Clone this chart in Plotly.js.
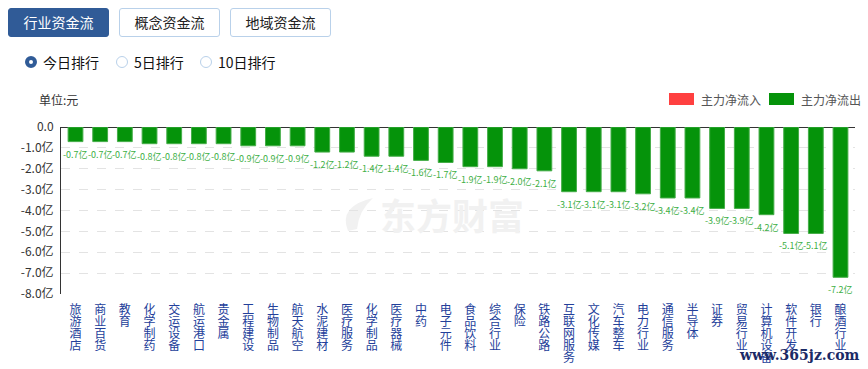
<!DOCTYPE html>
<html>
<head>
<meta charset="utf-8">
<script src="https://cdn.plot.ly/plotly-3.0.1.min.js"></script>
<style>
  html, body { margin: 0; padding: 0; background: #fff; }
  body { width: 868px; height: 369px; position: relative; overflow: hidden; font-family: "Noto Sans CJK SC", "Noto Sans", sans-serif; }
  #chart { position: absolute; left: 0; top: 0; width: 868px; height: 369px; }
  .btn { position: absolute; top: 8px; width: 99px; height: 27px; border: 1px solid #b9d1ea; border-radius: 3px; background: #fff; color: #222; font-size: 14px; line-height: 27px; text-align: center; z-index: 2; }
  .btn.active { background: #305b97; border-color: #305b97; color: #fff; }
  .radio { position: absolute; top: 54px; height: 16px; font-size: 14px; line-height: 16px; color: #111; z-index: 2; }
  .radio i { position: absolute; left: 0; top: 2px; width: 10px; height: 10px; border: 1px solid #b9d1ea; border-radius: 50%; box-sizing: content-box; }
  .radio.on i { width: 4px; height: 4px; border: 4px solid #305b97; }
  .radio span { position: absolute; left: 18px; top: 0; white-space: nowrap; }
</style>
</head>
<body>
<div class="btn active" style="left:8px;">行业资金流</div>
<div class="btn" style="left:119px;">概念资金流</div>
<div class="btn" style="left:230px;">地域资金流</div>
<div class="radio on" style="left:25px;"><i></i><span>今日排行</span></div>
<div class="radio" style="left:116px;"><i></i><span>5日排行</span></div>
<div class="radio" style="left:200px;"><i></i><span>10日排行</span></div>
<div id="chart"></div>
<script>
const categories = ["旅游酒店","商业百货","教育","化学制药","交运设备","航运港口","贵金属","工程建设","生物制品","航天航空","水泥建材","医疗服务","化学制品","医疗器械","中药","电子元件","食品饮料","综合行业","保险","铁路公路","互联网服务","文化传媒","汽车整车","电力行业","通信服务","半导体","证券","贸易行业","计算机设备","软件开发","银行","酿酒行业"];
const netOutflow = [-0.7,-0.7,-0.7,-0.8,-0.8,-0.8,-0.8,-0.9,-0.9,-0.9,-1.2,-1.2,-1.4,-1.4,-1.6,-1.7,-1.9,-1.9,-2.0,-2.1,-3.1,-3.1,-3.1,-3.2,-3.4,-3.4,-3.9,-3.9,-4.2,-5.1,-5.1,-7.2];
const yTickVals = [0,-1,-2,-3,-4,-5,-6,-7,-8];
const yTickText = ["0.0","-1.0亿","-2.0亿","-3.0亿","-4.0亿","-5.0亿","-6.0亿","-7.0亿","-8.0亿"];
const legendNames = ["主力净流入","主力净流出"];

const L = 61, R = 855, T = 127, B = 294;
const W = R - L, H = B - T;
const px = v => (v - L) / W;
const py = v => (B - v) / H;

const font = '"Noto Sans CJK SC", "Noto Sans", sans-serif';

const trace = {
  type: 'bar',
  x: categories,
  y: netOutflow,
  marker: { color: '#05930a', line: { color: '#45ad48', width: 1 } },
  hoverinfo: 'x+y',
  showlegend: false
};

const valueLabels = categories.map((c, i) => ({
  xref: 'x', yref: 'y', x: c, y: netOutflow[i],
  xanchor: 'center', yanchor: 'top', yshift: -4,
  text: netOutflow[i].toFixed(1) + '亿', showarrow: false,
  font: { family: font, size: 9, color: '#3daf44' }
}));

const layout = {
  width: 868, height: 369,
  margin: { l: L, r: 868 - R, t: T, b: 369 - B, pad: 0 },
  paper_bgcolor: 'rgba(0,0,0,0)',
  plot_bgcolor: 'rgba(0,0,0,0)',
  bargap: 0.4,
  font: { family: font, size: 12, color: '#333' },
  xaxis: {
    type: 'category',
    tickvals: categories,
    ticktext: categories.map(c => c.split('').join('<br>')),
    tickfont: { family: font, size: 12, color: '#23409a' },
    ticks: '', showline: false, showgrid: false, zeroline: false,
    ticklabelstandoff: 7,
    fixedrange: true
  },
  yaxis: {
    range: [-8, 0],
    tickvals: yTickVals,
    ticktext: yTickText,
    tickfont: { family: font, size: 12, color: '#333' },
    ticks: '', ticklabelstandoff: 4,
    showline: true, linecolor: '#333', linewidth: 1,
    showgrid: true, gridcolor: '#e3e3e3', griddash: 'dash', gridwidth: 1,
    zeroline: true, zerolinecolor: '#333', zerolinewidth: 1,
    fixedrange: true
  },
  shapes: [
    { type: 'rect', xref: 'paper', yref: 'paper', x0: px(669), x1: px(694), y0: py(105), y1: py(93), fillcolor: '#ff4040', line: { width: 0 } },
    { type: 'rect', xref: 'paper', yref: 'paper', x0: px(769), x1: px(794), y0: py(105), y1: py(93), fillcolor: '#05930a', line: { width: 0 } },
    { type: 'path', xref: 'paper', yref: 'paper', layer: 'below', fillcolor: '#f1f1f1', line: { width: 0 },
      path: `M ${px(348)} ${py(231)} Q ${px(338)} ${py(206)} ${px(373)} ${py(198)} Q ${px(359)} ${py(210)} ${px(357)} ${py(229)} Z` }
  ],
  annotations: [
    { xref: 'paper', yref: 'paper', x: px(37), y: py(99), xanchor: 'left', yanchor: 'middle', text: '单位:元', showarrow: false, font: { family: font, size: 12, color: '#333' } },
    { xref: 'paper', yref: 'paper', x: px(699), y: py(99), xanchor: 'left', yanchor: 'middle', text: legendNames[0], showarrow: false, font: { family: font, size: 12, color: '#555' } },
    { xref: 'paper', yref: 'paper', x: px(799), y: py(99), xanchor: 'left', yanchor: 'middle', text: legendNames[1], showarrow: false, font: { family: font, size: 12, color: '#555' } },
    { xref: 'paper', yref: 'paper', x: px(452), y: py(214), xanchor: 'center', yanchor: 'middle', text: '<b>东方财富</b>', showarrow: false, font: { family: font, size: 36, color: '#f1f1f1' } },
    { xref: 'paper', yref: 'paper', x: px(862), y: py(355), xanchor: 'right', yanchor: 'middle', text: '<b>www.365jz.com</b>', showarrow: false, font: { family: '"DejaVu Serif", serif', size: 14, color: '#1b2a66' } }
  ].concat(valueLabels)
};

Plotly.newPlot('chart', [trace], layout, { displayModeBar: false, staticPlot: true }).then(() => {
  document.querySelectorAll('#chart .xtick text tspan.line').forEach(t => {
    const dy = parseFloat(t.getAttribute('dy') || '0');
    t.setAttribute('dy', (dy / 1.3 * 1.0) + 'em');
  });
});
</script>
</body>
</html>
